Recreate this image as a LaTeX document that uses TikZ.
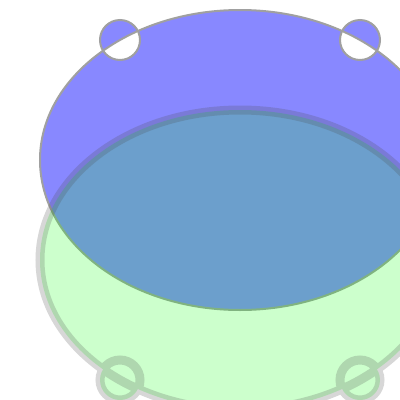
\documentclass[tikz,border=0pt]{standalone}
\usepackage{tikz}
\usepackage{xcolor}
\definecolor{bluefill}{RGB}{136, 136, 255}
\definecolor{blueline}{RGB}{160, 160, 160}
\definecolor{greenfill}{RGB}{0, 255, 0}
\definecolor{greenline}{RGB}{74, 74, 74}
\tikzset{
    blueshape/.style={fill=bluefill, draw=blueline, line width=2pt, even odd rule},
    greenshape/.style={fill=greenfill, fill opacity=0.2, draw=greenline, draw opacity=0.22, line width=9pt}
}
\begin{document}
\begin{tikzpicture}[x=1pt, y=-1pt]
    \useasboundingbox (0,0) rectangle (400,400);
    \fill[white] (0,0) rectangle (400,400);
    \clip (0,0) rectangle (400,400);
    % top shape
    \path[blueshape] (240,160) ellipse [x radius=200, y radius=150]
        (120,40) circle [radius=20] (360,40) circle [radius=20];
    % bottom shape
    \path[greenshape] (240,260) ellipse [x radius=200, y radius=150]
        (120,380) circle [radius=20] (360,380) circle [radius=20];
\end{tikzpicture}
\end{document}
